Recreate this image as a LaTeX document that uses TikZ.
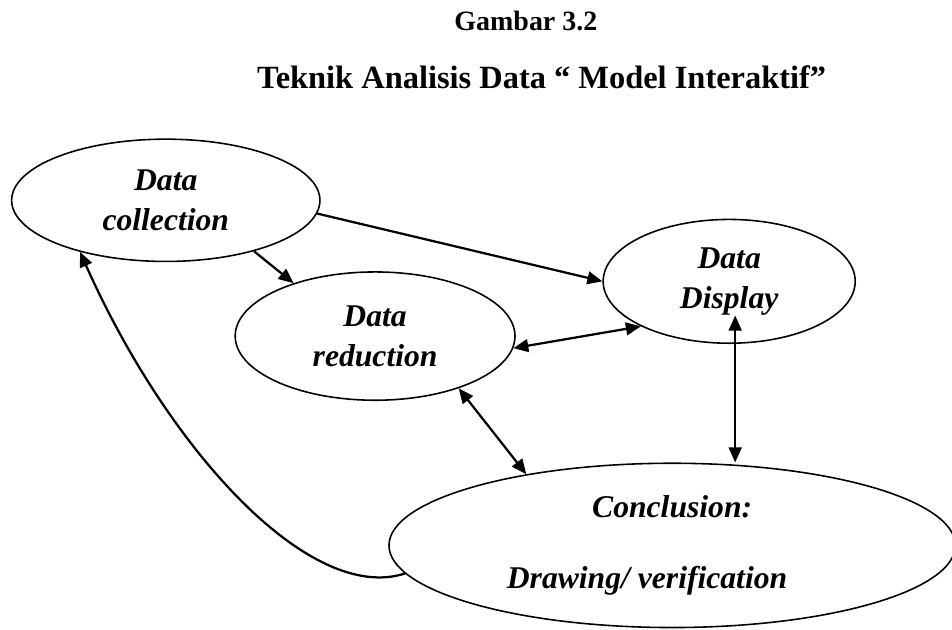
\documentclass[tikz,border=0pt]{standalone}
\usepackage{fontspec}
\setmainfont{Liberation Serif}
\usetikzlibrary{arrows.meta,shapes.geometric}

\begin{document}
\begin{tikzpicture}[
  stage/.style={draw, ellipse, inner sep=0pt, line width=0.6pt, align=center,
                font=\fontsize{12}{15.2}\selectfont\bfseries\itshape},
  flow/.style={line width=0.85pt},
  >={Triangle[length=2mm, width=1.7mm]}]
  \useasboundingbox (0,0) rectangle (12.69,8.39);
  % caption
  \node[font=\fontsize{10.6}{13}\selectfont\bfseries, anchor=base] (fig) at (7.01,7.99) {Gambar 3.2};
  \node[font=\fontsize{12.3}{15}\selectfont\bfseries, anchor=base] (title) at (7.22,7.21)
        {Teknik Analisis Data “ Model Interaktif”};
  % the four stages
  \node[stage, minimum width=4.11cm, minimum height=1.63cm] (collect) at (2.21,5.72) {Data\\collection};
  \node[stage, minimum width=3.73cm, minimum height=1.71cm] (reduce) at (5.00,3.91) {Data\\reduction};
  \node[stage, minimum width=3.36cm, minimum height=1.65cm] (display) at (9.72,4.64) {Data\\Display};
  \node[stage, minimum width=7.55cm, minimum height=2.19cm] (concl) at (8.96,1.12)
        {Conclusion:\\[12pt]Drawing/ verification\hspace*{0.67cm}};
  \coordinate (dspfoot) at ([xshift=0.08cm, yshift=0.38cm]display.south);
  % links
  \draw[flow,->] (collect.-5) -- (display.180);
  \draw[flow,->] (collect.-30) -- (reduce.147);
  \draw[flow,<->] (reduce.-5) -- (display.207);
  \draw[flow,<->] (reduce.-32) -- (concl.154);
  \draw[flow,<->] (dspfoot) -- (dspfoot |- concl.north);
  \draw[flow,->] (concl.186) .. controls +(198:1.33) and +(-66:2.9) .. (collect.211);
\end{tikzpicture}
\end{document}
